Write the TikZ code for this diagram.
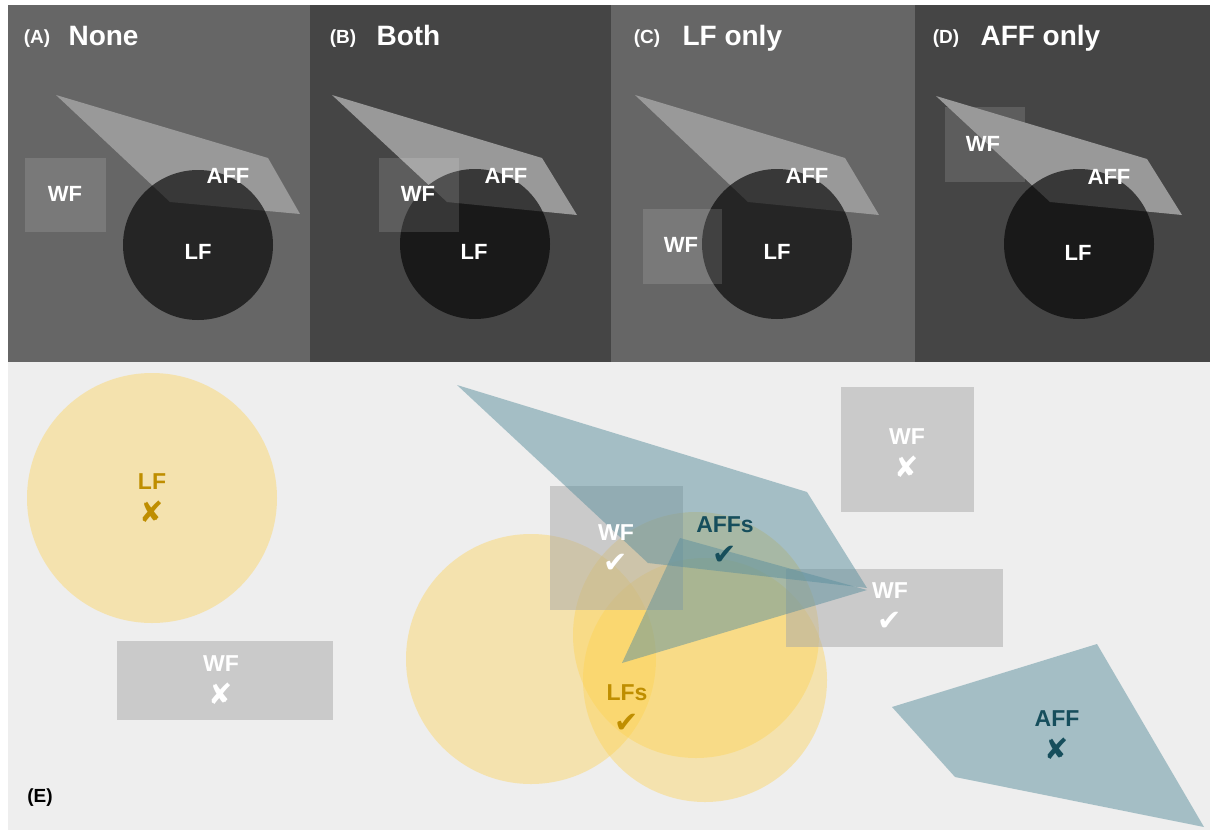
\documentclass[tikz,border=0pt]{standalone}
\usepackage{fontspec}
\setmainfont{Liberation Sans}
\newfontfamily\symbolfont{DejaVu Sans}
\usepackage{tikz}
\usetikzlibrary{positioning}
\definecolor{lfgold}{RGB}{191,142,0}
\definecolor{affteal}{RGB}{22,78,92}
\definecolor{affblue}{RGB}{92,144,158}
\definecolor{lfyellow}{RGB}{255,210,78}
\definecolor{wfgray}{RGB}{168,168,168}
\definecolor{ebg}{HTML}{EEEEEE}
\newcommand{\okmark}{{\symbolfont ✔}}
\newcommand{\nomark}{{\symbolfont ✘}}
\tikzset{
panelbg/.style = {fill=#1},
affshape/.style = {fill=black!40},
lfshape/.style = {fill=black, fill opacity=0.63},
wfshape/.style = {fill=white, fill opacity=0.13},
tag/.style = {text=white, anchor=base, font=\bfseries\fontsize{19}{19}\selectfont},
heading/.style = {text=white, anchor=base west, font=\bfseries\fontsize{28}{28}\selectfont},
lbl/.style = {text=white, font=\bfseries\fontsize{22}{22}\selectfont},
lfsoft/.style = {fill=lfyellow, fill opacity=0.4},
affsoft/.style = {fill=affblue, fill opacity=0.5},
wfsoft/.style = {fill=wfgray, fill opacity=0.5},
elbl/.style = {font=\bfseries\fontsize{23}{23}\selectfont},
verdict/.style = {node distance=30pt, font=\symbolfont\fontsize{29}{29}\selectfont}
}
\begin{document}
\begin{tikzpicture}[x=1pt,y=-1pt]
    \useasboundingbox (0,0) rectangle (1210,830);
    \fill[white] (0,0) rectangle (1210,830);

    \fill[panelbg=black!60] (8,5) rectangle (310,362);
    \fill[panelbg=black!73] (310,5) rectangle (611,362);
    \fill[panelbg=black!60] (611,5) rectangle (915,362);
    \fill[panelbg=black!73] (915,5) rectangle (1210,362);
    \fill[ebg] (8,362) rectangle (1210,830);

    \fill[affshape] (56,95) -- (268,158) -- (300,214) -- (170,202) -- cycle;
    \fill[lfshape] (198,245) circle (75pt);
    \fill[wfshape] (25,158) rectangle (106,232);
    \node[tag] (tagA) at (37,43) {(A)};
    \node[heading] (headA) at (65,45) {None};
    \node[lbl] (wfA) at (65,194) {WF};
    \node[lbl] (affA) at (228,176) {AFF};
    \node[lbl] (lfA) at (198,252) {LF};

    \fill[affshape] (332,95) -- (542,158) -- (577,215) -- (447,202) -- cycle;
    \fill[lfshape] (475,244) circle (75pt);
    \fill[wfshape] (379,158) rectangle (459,232);
    \node[tag] (tagB) at (343,43) {(B)};
    \node[heading] (headB) at (373,45) {Both};
    \node[lbl] (wfB) at (418,194) {WF};
    \node[lbl] (affB) at (506,176) {AFF};
    \node[lbl] (lfB) at (474,252) {LF};

    \fill[affshape] (635,95) -- (845,158) -- (879,215) -- (748,202) -- cycle;
    \fill[lfshape] (777,244) circle (75pt);
    \fill[wfshape] (643,209) rectangle (722,284);
    \node[tag] (tagC) at (647,43) {(C)};
    \node[heading] (headC) at (679,45) {LF only};
    \node[lbl] (wfC) at (681,245) {WF};
    \node[lbl] (affC) at (807,176) {AFF};
    \node[lbl] (lfC) at (777,252) {LF};

    \fill[wfshape] (945,107) rectangle (1025,182);
    \fill[affshape] (936,96) -- (1147,159) -- (1182,215) -- (1050,202) -- cycle;
    \fill[lfshape] (1079,244) circle (75pt);
    \node[tag] (tagD) at (946,43) {(D)};
    \node[heading] (headD) at (977,45) {AFF only};
    \node[lbl] (wfD) at (983,144) {WF};
    \node[lbl] (affD) at (1109,177) {AFF};
    \node[lbl] (lfD) at (1078,253) {LF};

    \fill[lfsoft] (152,498) circle (125pt);
    \fill[lfsoft] (531,659) circle (125pt);
    \fill[lfsoft] (696,635) circle (123pt);
    \fill[lfsoft] (705,680) circle (122pt);

    \fill[wfsoft] (117,641) rectangle (333,720);
    \fill[wfsoft] (550,486) rectangle (683,610);
    \fill[wfsoft] (841,387) rectangle (974,512);
    \fill[wfsoft] (786,569) rectangle (1003,647);

    \fill[affsoft] (457,385) -- (807,492) -- (867,588) -- (648,563) -- cycle;
    \fill[affsoft] (680,538) -- (867,590) -- (622,663) -- cycle;
    \fill[affsoft] (892,707) -- (1097,644) -- (1204,827) -- (955,777) -- cycle;

    \node[elbl, text=lfgold] (lfE) at (152,482) {LF};
    \node[verdict, text=lfgold, below of=lfE] (lfEv) {\nomark};
    \node[elbl, text=white] (wfE) at (221,664) {WF};
    \node[verdict, text=white, below of=wfE] (wfEv) {\nomark};
    \node[elbl, text=white] (wfM) at (616,533) {WF};
    \node[verdict, text=white, below of=wfM] (wfMv) {\okmark};
    \node[elbl, text=affteal] (affM) at (725,525) {AFFs};
    \node[verdict, text=affteal, below of=affM] (affMv) {\okmark};
    \node[elbl, text=lfgold] (lfM) at (627,693) {LFs};
    \node[verdict, text=lfgold, below of=lfM] (lfMv) {\okmark};
    \node[elbl, text=white] (wfT) at (907,437) {WF};
    \node[verdict, text=white, below of=wfT] (wfTv) {\nomark};
    \node[elbl, text=white] (wfR) at (890,591) {WF};
    \node[verdict, text=white, below of=wfR] (wfRv) {\okmark};
    \node[elbl, text=affteal] (affR) at (1057,719) {AFF};
    \node[verdict, text=affteal, below of=affR] (affRv) {\nomark};

    \node[elbl, text=black, anchor=base, font=\bfseries\fontsize{19}{19}\selectfont] (tagE) at (40,802) {(E)};
\end{tikzpicture}
\end{document}
